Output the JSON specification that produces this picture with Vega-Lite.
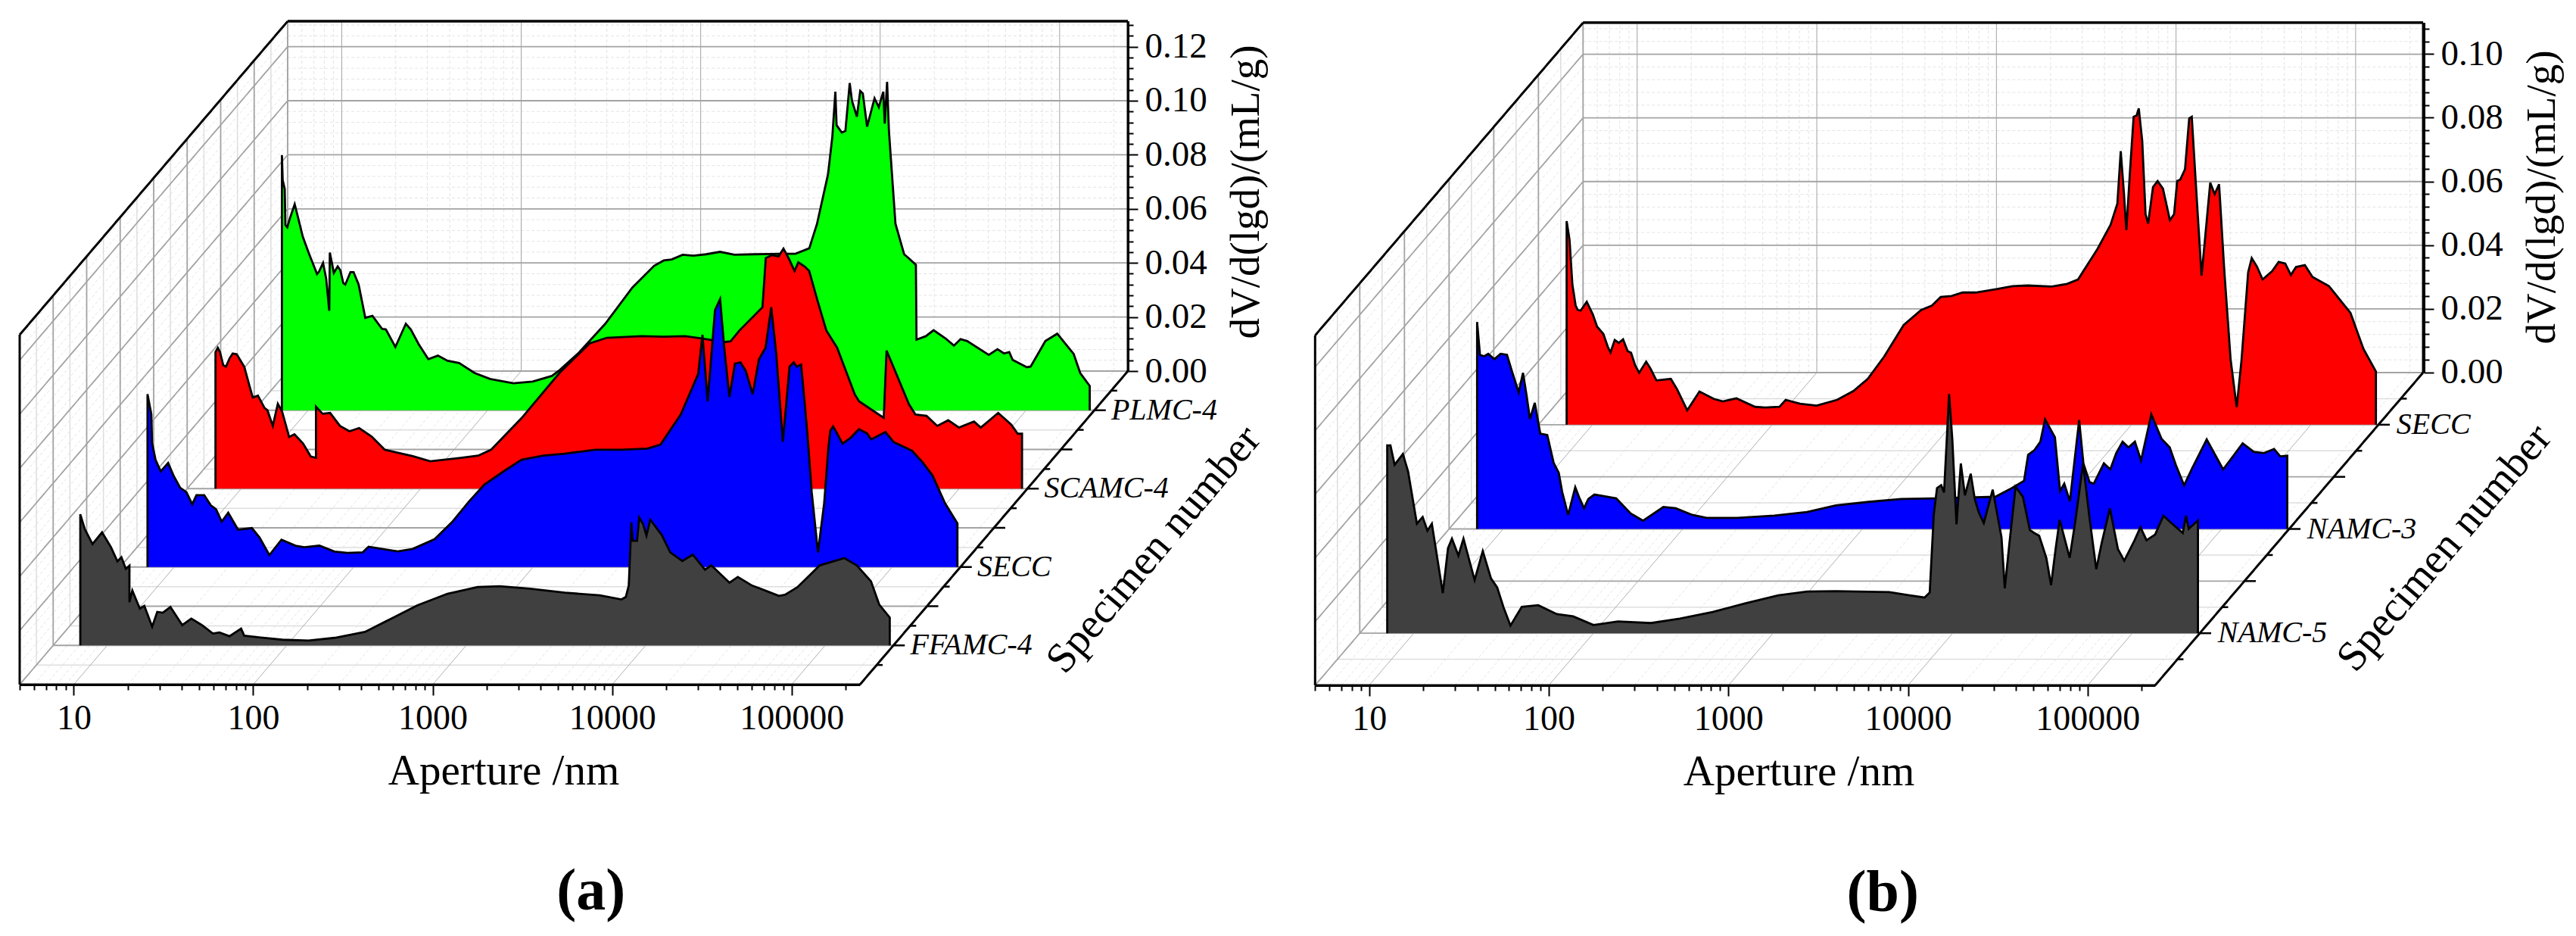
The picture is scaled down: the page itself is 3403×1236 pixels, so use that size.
{"$schema":"https://vega.github.io/schema/vega-lite/v6.json","width":3403,"height":1236,"padding":0,"autosize":{"type":"none"},"background":"white","config":{"view":{"stroke":null}},
"datasets":{
"PLMC-4":[{"a":7.14,"v":0},{"a":7.14,"v":0.0944},{"a":7.21,"v":0.0851},{"a":7.40,"v":0.0819},{"a":7.47,"v":0.0685},{"a":7.65,"v":0.0677},{"a":7.92,"v":0.0711},{"a":8.41,"v":0.0762},{"a":8.75,"v":0.0717},{"a":9.33,"v":0.0642},{"a":10.05,"v":0.0583},{"a":11.2,"v":0.0504},{"a":11.5,"v":0.0513},{"a":12.1,"v":0.0545},{"a":12.6,"v":0.0486},{"a":13.1,"v":0.0368},{"a":13.2,"v":0.0583},{"a":13.5,"v":0.0551},{"a":13.9,"v":0.0508},{"a":14.6,"v":0.0532},{"a":15.1,"v":0.0518},{"a":15.7,"v":0.047},{"a":16.1,"v":0.0465},{"a":17.2,"v":0.0511},{"a":17.9,"v":0.0511},{"a":19.1,"v":0.0465},{"a":20.8,"v":0.0342},{"a":22.8,"v":0.0349},{"a":25.8,"v":0.0301},{"a":27.1,"v":0.0299},{"a":30.6,"v":0.0234},{"a":35,"v":0.032},{"a":37.3,"v":0.0299},{"a":41.2,"v":0.0245},{"a":46.7,"v":0.0189},{"a":52.8,"v":0.0202},{"a":59.8,"v":0.0183},{"a":69.3,"v":0.0175},{"a":84.5,"v":0.0138},{"a":103,"v":0.0116},{"a":139,"v":0.01},{"a":178,"v":0.0106},{"a":228,"v":0.0127},{"a":252,"v":0.0149},{"a":322,"v":0.0213},{"a":452,"v":0.032},{"a":640,"v":0.0454},{"a":845,"v":0.0534},{"a":957,"v":0.0554},{"a":1060,"v":0.0558},{"a":1220,"v":0.0575},{"a":1400,"v":0.0572},{"a":1650,"v":0.0577},{"a":1970,"v":0.0586},{"a":2370,"v":0.0575},{"a":3050,"v":0.0577},{"a":4270,"v":0.0579},{"a":5180,"v":0.0579},{"a":6190,"v":0.0599},{"a":6840,"v":0.069},{"a":7870,"v":0.0872},{"a":8320,"v":0.1011},{"a":8650,"v":0.1178},{"a":8790,"v":0.1054},{"a":9400,"v":0.1027},{"a":9840,"v":0.1033},{"a":10400,"v":0.121},{"a":10700,"v":0.1145},{"a":11400,"v":0.1086},{"a":11900,"v":0.1181},{"a":12300,"v":0.1172},{"a":13000,"v":0.1049},{"a":14300,"v":0.1154},{"a":15100,"v":0.1121},{"a":16000,"v":0.1178},{"a":16300,"v":0.106},{"a":16800,"v":0.1215},{"a":17200,"v":0.1033},{"a":18700,"v":0.069},{"a":20900,"v":0.0577},{"a":22300,"v":0.0561},{"a":24300,"v":0.0538},{"a":24500,"v":0.0261},{"a":27600,"v":0.0274},{"a":30500,"v":0.0296},{"a":35500,"v":0.0266},{"a":39600,"v":0.0239},{"a":43100,"v":0.0263},{"a":46900,"v":0.0256},{"a":61900,"v":0.0205},{"a":69200,"v":0.0226},{"a":75300,"v":0.021},{"a":80500,"v":0.0215},{"a":84100,"v":0.0186},{"a":101000,"v":0.0159},{"a":106000,"v":0.0162},{"a":128000,"v":0.0256},{"a":149000,"v":0.0283},{"a":184000,"v":0.0208},{"a":200000,"v":0.0138},{"a":226000,"v":0.009},{"a":226000,"v":0}],
"SCAMC-4":[{"a":7.19,"v":0},{"a":7.19,"v":0.0505},{"a":7.41,"v":0.0521},{"a":7.62,"v":0.0505},{"a":7.94,"v":0.0457},{"a":8.22,"v":0.0451},{"a":8.63,"v":0.0483},{"a":8.97,"v":0.05},{"a":9.44,"v":0.0497},{"a":10.4,"v":0.0451},{"a":11.1,"v":0.0382},{"a":11.6,"v":0.0337},{"a":12.4,"v":0.0344},{"a":13.5,"v":0.0298},{"a":14,"v":0.029},{"a":15,"v":0.0232},{"a":16,"v":0.0314},{"a":16.9,"v":0.0285},{"a":18.5,"v":0.0191},{"a":19.8,"v":0.0201},{"a":22.1,"v":0.0167},{"a":24.4,"v":0.0119},{"a":26.1,"v":0.0114},{"a":26.1,"v":0.0303},{"a":28.4,"v":0.0277},{"a":31.3,"v":0.028},{"a":35.5,"v":0.0232},{"a":40.1,"v":0.0212},{"a":45.4,"v":0.0224},{"a":53.2,"v":0.0193},{"a":63,"v":0.0144},{"a":90.4,"v":0.012},{"a":113,"v":0.0101},{"a":167,"v":0.0114},{"a":209,"v":0.0122},{"a":247,"v":0.0144},{"a":365,"v":0.0261},{"a":597,"v":0.043},{"a":873,"v":0.0537},{"a":1090,"v":0.0558},{"a":1700,"v":0.0564},{"a":2250,"v":0.0562},{"a":2970,"v":0.0564},{"a":3720,"v":0.0555},{"a":4910,"v":0.0542},{"a":5330,"v":0.0545},{"a":5970,"v":0.0585},{"a":8020,"v":0.0671},{"a":8370,"v":0.0853},{"a":9080,"v":0.0864},{"a":9860,"v":0.0859},{"a":10500,"v":0.0888},{"a":11300,"v":0.0848},{"a":12100,"v":0.0805},{"a":12700,"v":0.0837},{"a":13800,"v":0.0821},{"a":14600,"v":0.0805},{"a":16300,"v":0.0692},{"a":18200,"v":0.0585},{"a":20900,"v":0.0521},{"a":26200,"v":0.0349},{"a":27700,"v":0.0323},{"a":33700,"v":0.0285},{"a":38000,"v":0.0262},{"a":39400,"v":0.051},{"a":43300,"v":0.0446},{"a":52500,"v":0.0312},{"a":57100,"v":0.0274},{"a":65800,"v":0.0269},{"a":75500,"v":0.0232},{"a":86900,"v":0.0253},{"a":99800,"v":0.0226},{"a":121000,"v":0.0248},{"a":132000,"v":0.0226},{"a":165000,"v":0.028},{"a":195000,"v":0.0237},{"a":212000,"v":0.0203},{"a":224000,"v":0.0203},{"a":224000,"v":0}],
"SECC-a":[{"a":7.1,"v":0},{"a":7.1,"v":0.0639},{"a":7.46,"v":0.0565},{"a":7.53,"v":0.0459},{"a":7.87,"v":0.0397},{"a":8.41,"v":0.0354},{"a":9.25,"v":0.0385},{"a":9.95,"v":0.0336},{"a":10.8,"v":0.0293},{"a":11.7,"v":0.0277},{"a":12.6,"v":0.0232},{"a":13.3,"v":0.0266},{"a":14.7,"v":0.0266},{"a":16,"v":0.0228},{"a":17.1,"v":0.0214},{"a":18.4,"v":0.0168},{"a":20,"v":0.0201},{"a":22.7,"v":0.0138},{"a":27.1,"v":0.0144},{"a":29.9,"v":0.0109},{"a":33.9,"v":0.0044},{"a":39.6,"v":0.0101},{"a":47.4,"v":0.0079},{"a":53,"v":0.0073},{"a":64.4,"v":0.0079},{"a":78.2,"v":0.0057},{"a":92.5,"v":0.0052},{"a":112,"v":0.0054},{"a":121,"v":0.0075},{"a":144,"v":0.0067},{"a":176,"v":0.0058},{"a":213,"v":0.0067},{"a":282,"v":0.0103},{"a":352,"v":0.0165},{"a":441,"v":0.0244},{"a":535,"v":0.0305},{"a":689,"v":0.0355},{"a":861,"v":0.0397},{"a":1140,"v":0.0412},{"a":1500,"v":0.0419},{"a":2220,"v":0.0434},{"a":3100,"v":0.0434},{"a":4330,"v":0.0438},{"a":5120,"v":0.0453},{"a":6640,"v":0.0564},{"a":8300,"v":0.0714},{"a":8770,"v":0.0859},{"a":9380,"v":0.0613},{"a":10300,"v":0.095},{"a":11000,"v":0.0991},{"a":11600,"v":0.0811},{"a":12400,"v":0.0629},{"a":13300,"v":0.0752},{"a":14300,"v":0.0757},{"a":15300,"v":0.0725},{"a":16700,"v":0.0639},{"a":18100,"v":0.0768},{"a":19700,"v":0.0811},{"a":21200,"v":0.0961},{"a":22600,"v":0.079},{"a":24600,"v":0.0463},{"a":26800,"v":0.0741},{"a":28300,"v":0.0757},{"a":29400,"v":0.0741},{"a":31100,"v":0.0749},{"a":32400,"v":0.0622},{"a":33800,"v":0.0483},{"a":35600,"v":0.0279},{"a":38600,"v":0.0054},{"a":41800,"v":0.0236},{"a":44100,"v":0.044},{"a":45200,"v":0.0504},{"a":46900,"v":0.052},{"a":48900,"v":0.0499},{"a":52900,"v":0.0456},{"a":58700,"v":0.0478},{"a":65300,"v":0.051},{"a":72500,"v":0.0494},{"a":76400,"v":0.0472},{"a":91800,"v":0.0499},{"a":102000,"v":0.0462},{"a":129000,"v":0.043},{"a":148000,"v":0.0387},{"a":168000,"v":0.0338},{"a":197000,"v":0.0236},{"a":231000,"v":0.0161},{"a":231000,"v":0}],
"FFAMC-4":[{"a":7.08,"v":0},{"a":7.08,"v":0.0485},{"a":7.5,"v":0.043},{"a":8.28,"v":0.0375},{"a":9.36,"v":0.0418},{"a":10.5,"v":0.0363},{"a":11.4,"v":0.0311},{"a":12,"v":0.0326},{"a":12.7,"v":0.0283},{"a":13.3,"v":0.0295},{"a":13.3,"v":0.016},{"a":13.8,"v":0.0203},{"a":15.2,"v":0.0136},{"a":16.1,"v":0.0146},{"a":17.8,"v":0.0069},{"a":19,"v":0.0124},{"a":20.4,"v":0.0121},{"a":22.5,"v":0.0142},{"a":26.2,"v":0.0075},{"a":29.4,"v":0.0099},{"a":33.7,"v":0.0075},{"a":38.8,"v":0.0044},{"a":42.2,"v":0.0048},{"a":48,"v":0.0034},{"a":55.7,"v":0.0062},{"a":58,"v":0.0036},{"a":71.6,"v":0.0029},{"a":94.6,"v":0.0021},{"a":132,"v":0.0018},{"a":185,"v":0.0028},{"a":273,"v":0.005},{"a":382,"v":0.0099},{"a":533,"v":0.0148},{"a":787,"v":0.0191},{"a":1160,"v":0.0216},{"a":1540,"v":0.0219},{"a":2270,"v":0.021},{"a":3550,"v":0.0195},{"a":5550,"v":0.0185},{"a":7330,"v":0.017},{"a":7750,"v":0.0179},{"a":8050,"v":0.0222},{"a":8320,"v":0.0455},{"a":8470,"v":0.0387},{"a":8950,"v":0.0387},{"a":9200,"v":0.0473},{"a":9680,"v":0.0448},{"a":10100,"v":0.0406},{"a":10600,"v":0.0465},{"a":12300,"v":0.0408},{"a":13700,"v":0.0344},{"a":16000,"v":0.0312},{"a":18300,"v":0.0336},{"a":21400,"v":0.028},{"a":23200,"v":0.0296},{"a":29300,"v":0.0232},{"a":32600,"v":0.0253},{"a":39200,"v":0.0221},{"a":43500,"v":0.021},{"a":55200,"v":0.0183},{"a":59700,"v":0.0187},{"a":70000,"v":0.0215},{"a":93300,"v":0.0296},{"a":128000,"v":0.0323},{"a":150000,"v":0.0296},{"a":180000,"v":0.0237},{"a":200000,"v":0.0151},{"a":229000,"v":0.0103},{"a":229000,"v":0}],
"SECC-b":[{"a":7.18,"v":0},{"a":7.18,"v":0.0639},{"a":7.45,"v":0.0581},{"a":7.73,"v":0.044},{"a":8.06,"v":0.0374},{"a":8.28,"v":0.036},{"a":8.59,"v":0.0358},{"a":9.29,"v":0.0386},{"a":10.05,"v":0.0346},{"a":10.6,"v":0.0308},{"a":11.5,"v":0.0285},{"a":12.2,"v":0.0243},{"a":12.6,"v":0.0227},{"a":13.3,"v":0.0266},{"a":14,"v":0.0257},{"a":14.8,"v":0.0268},{"a":15.7,"v":0.0231},{"a":16.4,"v":0.0226},{"a":17.3,"v":0.0186},{"a":18.2,"v":0.0163},{"a":19.9,"v":0.0198},{"a":21,"v":0.0177},{"a":22.7,"v":0.0139},{"a":27.3,"v":0.0144},{"a":29.6,"v":0.0111},{"a":33.7,"v":0.0045},{"a":39.4,"v":0.0104},{"a":47.4,"v":0.0081},{"a":53.2,"v":0.0073},{"a":63.3,"v":0.0083},{"a":80.4,"v":0.0056},{"a":91.5,"v":0.0054},{"a":110,"v":0.0056},{"a":119,"v":0.0078},{"a":143,"v":0.0066},{"a":177,"v":0.006},{"a":230,"v":0.0078},{"a":284,"v":0.0106},{"a":341,"v":0.0144},{"a":421,"v":0.0214},{"a":540,"v":0.0313},{"a":675,"v":0.036},{"a":776,"v":0.0374},{"a":869,"v":0.0401},{"a":998,"v":0.0404},{"a":1150,"v":0.0415},{"a":1360,"v":0.0415},{"a":1790,"v":0.0426},{"a":2180,"v":0.0435},{"a":2650,"v":0.0437},{"a":3610,"v":0.0434},{"a":4390,"v":0.0442},{"a":5050,"v":0.0456},{"a":6500,"v":0.0553},{"a":7670,"v":0.0628},{"a":8360,"v":0.0694},{"a":8730,"v":0.0859},{"a":9080,"v":0.0732},{"a":9380,"v":0.0611},{"a":9860,"v":0.0807},{"a":10300,"v":0.0967},{"a":10700,"v":0.0971},{"a":11000,"v":0.0993},{"a":11500,"v":0.0891},{"a":12000,"v":0.0661},{"a":12400,"v":0.0631},{"a":13200,"v":0.0746},{"a":14000,"v":0.0765},{"a":15000,"v":0.0741},{"a":16400,"v":0.0642},{"a":17300,"v":0.0661},{"a":18000,"v":0.0765},{"a":18700,"v":0.0769},{"a":19900,"v":0.0802},{"a":21000,"v":0.0962},{"a":21700,"v":0.0967},{"a":22900,"v":0.075},{"a":24600,"v":0.0468},{"a":25700,"v":0.0581},{"a":27500,"v":0.076},{"a":29100,"v":0.0724},{"a":30800,"v":0.0755},{"a":32900,"v":0.0487},{"a":35700,"v":0.0205},{"a":38600,"v":0.0055},{"a":41100,"v":0.0205},{"a":44700,"v":0.0478},{"a":46800,"v":0.0523},{"a":50000,"v":0.0497},{"a":53800,"v":0.0456},{"a":60800,"v":0.0482},{"a":66100,"v":0.0511},{"a":71900,"v":0.0506},{"a":77300,"v":0.047},{"a":82600,"v":0.0495},{"a":92500,"v":0.0501},{"a":102000,"v":0.0464},{"a":126000,"v":0.0435},{"a":166000,"v":0.0351},{"a":196000,"v":0.0238},{"a":230000,"v":0.0167},{"a":230000,"v":0}],
"NAMC-3":[{"a":7.16,"v":0},{"a":7.16,"v":0.065},{"a":7.43,"v":0.0547},{"a":7.83,"v":0.0542},{"a":8.26,"v":0.055},{"a":8.93,"v":0.0533},{"a":9.67,"v":0.055},{"a":10.5,"v":0.0547},{"a":11.2,"v":0.0495},{"a":12.2,"v":0.0429},{"a":12.9,"v":0.049},{"a":13.5,"v":0.042},{"a":14.1,"v":0.0345},{"a":15,"v":0.0396},{"a":16.1,"v":0.0299},{"a":17.6,"v":0.0295},{"a":19.1,"v":0.0208},{"a":20.4,"v":0.0176},{"a":21.3,"v":0.0117},{"a":23,"v":0.0044},{"a":25.2,"v":0.0131},{"a":26.5,"v":0.0099},{"a":28.2,"v":0.0065},{"a":29.8,"v":0.0094},{"a":32.2,"v":0.0108},{"a":36.3,"v":0.0103},{"a":42.6,"v":0.0096},{"a":51.2,"v":0.0049},{"a":60,"v":0.0026},{"a":78,"v":0.0069},{"a":91.4,"v":0.0065},{"a":113,"v":0.0044},{"a":136,"v":0.0035},{"a":201,"v":0.0035},{"a":323,"v":0.0042},{"a":492,"v":0.0053},{"a":711,"v":0.0074},{"a":1080,"v":0.0085},{"a":1650,"v":0.0094},{"a":2510,"v":0.0096},{"a":5500,"v":0.0101},{"a":6770,"v":0.0128},{"a":7940,"v":0.0151},{"a":8370,"v":0.0233},{"a":9060,"v":0.0247},{"a":9790,"v":0.0274},{"a":10400,"v":0.0344},{"a":11800,"v":0.0288},{"a":12600,"v":0.0119},{"a":13300,"v":0.0142},{"a":14300,"v":0.0087},{"a":16100,"v":0.0342},{"a":17000,"v":0.0206},{"a":18400,"v":0.0147},{"a":19400,"v":0.0142},{"a":22100,"v":0.0206},{"a":24000,"v":0.0187},{"a":25900,"v":0.0238},{"a":28100,"v":0.0274},{"a":30300,"v":0.0256},{"a":32900,"v":0.0274},{"a":35600,"v":0.0215},{"a":40600,"v":0.036},{"a":46300,"v":0.0283},{"a":51400,"v":0.0256},{"a":55600,"v":0.0201},{"a":61800,"v":0.0137},{"a":68700,"v":0.0192},{"a":82600,"v":0.0281},{"a":102000,"v":0.0187},{"a":131000,"v":0.0269},{"a":151000,"v":0.0242},{"a":172000,"v":0.0238},{"a":196000,"v":0.0251},{"a":212000,"v":0.0228},{"a":232000,"v":0.023},{"a":232000,"v":0}],
"NAMC-5":[{"a":7.11,"v":0},{"a":7.11,"v":0.059},{"a":7.41,"v":0.059},{"a":7.82,"v":0.0529},{"a":8.69,"v":0.0563},{"a":9.29,"v":0.0508},{"a":10.4,"v":0.0344},{"a":11.2,"v":0.0365},{"a":11.9,"v":0.0322},{"a":12.6,"v":0.0344},{"a":14.5,"v":0.0126},{"a":15.5,"v":0.0267},{"a":16.3,"v":0.0297},{"a":17.7,"v":0.0244},{"a":18.9,"v":0.0297},{"a":21.8,"v":0.0167},{"a":24.2,"v":0.0258},{"a":26.9,"v":0.0172},{"a":29.1,"v":0.0144},{"a":31.6,"v":0.0081},{"a":34.5,"v":0.0024},{"a":39.9,"v":0.0083},{"a":49.3,"v":0.0088},{"a":62.5,"v":0.006},{"a":77.1,"v":0.0053},{"a":100,"v":0.0026},{"a":137,"v":0.0037},{"a":209,"v":0.0032},{"a":303,"v":0.0046},{"a":461,"v":0.0067},{"a":703,"v":0.0094},{"a":1070,"v":0.0119},{"a":1550,"v":0.0131},{"a":2230,"v":0.0132},{"a":4430,"v":0.0129},{"a":5750,"v":0.0119},{"a":6980,"v":0.0112},{"a":7450,"v":0.0128},{"a":7850,"v":0.0374},{"a":8180,"v":0.0456},{"a":8630,"v":0.0465},{"a":8950,"v":0.0442},{"a":9550,"v":0.0751},{"a":9950,"v":0.061},{"a":10500,"v":0.0342},{"a":11100,"v":0.0533},{"a":11700,"v":0.0433},{"a":12600,"v":0.0501},{"a":13300,"v":0.0419},{"a":14000,"v":0.0378},{"a":14900,"v":0.0346},{"a":16700,"v":0.0451},{"a":18700,"v":0.0301},{"a":19500,"v":0.0141},{"a":20700,"v":0.0283},{"a":22400,"v":0.046},{"a":24600,"v":0.0428},{"a":26900,"v":0.0324},{"a":28400,"v":0.0315},{"a":30300,"v":0.0306},{"a":33200,"v":0.0237},{"a":35300,"v":0.0151},{"a":37400,"v":0.0264},{"a":39400,"v":0.0356},{"a":44800,"v":0.0237},{"a":48000,"v":0.0346},{"a":53200,"v":0.0533},{"a":57700,"v":0.0365},{"a":63000,"v":0.0201},{"a":67500,"v":0.0283},{"a":75000,"v":0.0392},{"a":83200,"v":0.0264},{"a":90200,"v":0.0228},{"a":103000,"v":0.0292},{"a":111000,"v":0.0333},{"a":120000,"v":0.0292},{"a":134000,"v":0.031},{"a":149000,"v":0.0369},{"a":165000,"v":0.0346},{"a":191000,"v":0.0315},{"a":199000,"v":0.0369},{"a":206000,"v":0.0328},{"a":232000,"v":0.0354},{"a":232000,"v":0}],
"gridA":[{"f":"a","m":0,"val":[6,7,8,9,20,30,40,50,60,70,80,90,200,300,400,500,600,700,800,900,2000,3000,4000,5000,6000,7000,8000,9000,20000,30000,40000,50000,60000,70000,80000,90000,200000]},{"f":"v","m":0,"val":[0.004,0.008,0.012,0.016,0.024,0.028,0.032,0.036,0.044,0.048,0.052,0.056,0.064,0.068,0.072,0.076,0.084,0.088,0.092,0.096,0.104,0.108,0.112,0.116,0.124,0.128]},{"f":"d","m":3,"val":[0.0625,0.1875,0.3125,0.4375,0.5625,0.6875,0.8125,0.9375]},{"f":"a","m":1,"val":[5,10,100,1000,10000,100000]},{"f":"v","m":1,"val":[0,0.02,0.04,0.06,0.08,0.1,0.12]},{"f":"d","m":1,"val":[0.125,0.25,0.375,0.5,0.625,0.75,0.875,1]},{"f":"a","m":2,"val":[240000]},{"f":"v","m":2,"val":[0.1294]},{"f":"d","m":2,"val":[0]}],
"gridB":[{"f":"a","m":0,"val":[6,7,8,9,20,30,40,50,60,70,80,90,200,300,400,500,600,700,800,900,2000,3000,4000,5000,6000,7000,8000,9000,20000,30000,40000,50000,60000,70000,80000,90000,200000]},{"f":"v","m":0,"val":[0.004,0.008,0.012,0.016,0.024,0.028,0.032,0.036,0.044,0.048,0.052,0.056,0.064,0.068,0.072,0.076,0.084,0.088,0.092,0.096,0.104,0.108]},{"f":"d","m":3,"val":[0.08333,0.25,0.41667,0.58333,0.75,0.91667]},{"f":"a","m":1,"val":[5,10,100,1000,10000,100000]},{"f":"v","m":1,"val":[0,0.02,0.04,0.06,0.08,0.1]},{"f":"d","m":1,"val":[0.16667,0.33333,0.5,0.66667,0.83333,1]},{"f":"a","m":2,"val":[237500]},{"f":"v","m":2,"val":[0.1099]},{"f":"d","m":2,"val":[0]}]
},
"resolve":{"scale":{"x":"independent","y":"independent"},"axis":{"x":"independent","y":"independent"}},
"layer":[
{"encoding":{"x":{"field":"x1","type":"quantitative","scale":{"type":"log","domain":[5,240000],"range":[26,1136],"nice":false},"axis":{"orient":"bottom","offset":-332,"values":[5,6,7,8,9,10,20,30,40,50,60,70,80,90,100,200,300,400,500,600,700,800,900,1000,2000,3000,4000,5000,6000,7000,8000,9000,10000,20000,30000,40000,50000,60000,70000,80000,90000,100000,200000],"labelExpr":"abs(log(datum.value)/LN10-round(log(datum.value)/LN10))<0.0001?datum.value:''","labelFont":"Liberation Serif","labelFontSize":46,"labelColor":"#000","labelPadding":8,"labelOverlap":false,"labelBound":false,"labelFlush":false,"tickSize":{"condition":{"test":"abs(log(datum.value)/LN10-round(log(datum.value)/LN10))<0.0001","value":14},"value":7},"tickWidth":2,"tickColor":"#000","domainColor":"#000","domainWidth":3,"grid":false,"title":"Aperture /nm","titleFont":"Liberation Serif","titleFontSize":57,"titleFontWeight":"normal","titleColor":"#000","titleX":665,"titleY":131,"titleAlign":"center","titleBaseline":"alphabetic"}},"y":{"field":"y1","type":"quantitative","scale":{"domain":[0,1],"range":[904,490],"nice":false,"zero":false},"axis":null}},
"layer":[
{"data":{"name":"gridA"},"transform":[{"flatten":["val"]},{"calculate":"[0,1]","as":"w"},{"flatten":["w"]},{"calculate":"datum.f=='a'?datum.val*(datum.w?31.12:1):datum.f=='v'?5*(datum.w?31.12:1):5*pow(31.12,datum.val)","as":"x1"},{"calculate":"datum.f=='a'?datum.val*31.12:datum.f=='v'?(datum.w?240000*31.12:5*31.12):(datum.w?240000:5)*pow(31.12,datum.val)","as":"x2"},{"calculate":"datum.f=='a'?(datum.w?1:0):datum.f=='v'?(datum.w?1:0)+datum.val*8.623:datum.val","as":"y1"},{"calculate":"datum.f=='a'?(datum.w?1+0.1294*8.623:1):datum.f=='v'?1+datum.val*8.623:datum.val+(datum.w?0:0.1294*8.623)","as":"y2"}],"mark":{"type":"rule"},"encoding":{"x2":{"field":"x2"},"y2":{"field":"y2"},"color":{"condition":[{"test":"datum.m==2","value":"#000000"},{"test":"datum.m==1","value":"#a3a3a3"},{"test":"datum.m==3","value":"#dedede"}],"value":"#e4e4e4"},"strokeWidth":{"condition":[{"test":"datum.m==2","value":3},{"test":"datum.m==1&&datum.f=='a'","value":1},{"test":"datum.m==1","value":1.8},{"test":"datum.m==3","value":1.5}],"value":1},"strokeDash":{"condition":{"test":"datum.m==0","value":[4,3]},"value":[1,0]}}},
{"data":{"values":[{"m":1,"d":[0.125,0.25,0.375,0.5,0.625,0.75,0.875]},{"m":0,"d":[0.0625,0.1875,0.3125,0.4375,0.5625,0.6875,0.8125,0.9375]}]},"transform":[{"flatten":["d"]},{"calculate":"240000*pow(31.12,datum.d)","as":"x1"},{"calculate":"datum.x1*(datum.m?1.157:1.08)","as":"x2"},{"calculate":"datum.d","as":"y1"}],"mark":{"type":"rule","color":"#000","strokeWidth":2.5},"encoding":{"x2":{"field":"x2"}}},
{"data":{"values":[{"t":"FFAMC-4","d":0.125},{"t":"SECC","d":0.375},{"t":"SCAMC-4","d":0.625},{"t":"PLMC-4","d":0.875}]},"transform":[{"calculate":"240000*1.24*pow(31.12,datum.d)","as":"x1"},{"calculate":"datum.d","as":"y1"}],"mark":{"type":"text","font":"Liberation Serif","fontStyle":"italic","fontSize":40,"align":"left","baseline":"middle","color":"#000"},"encoding":{"text":{"field":"t"}}},
{"data":{"values":[{"t":"Specimen number","x1":10400000,"y1":0.431}]},"mark":{"type":"text","font":"Liberation Serif","fontSize":56,"angle":-50,"align":"center","baseline":"middle","color":"#000"},"encoding":{"text":{"field":"t"}}},
{"data":{"values":[{"t":"(a)","x1":7620,"y1":-0.662}]},"mark":{"type":"text","font":"Liberation Serif","fontWeight":"bold","fontSize":78,"align":"center","baseline":"middle","color":"#000"},"encoding":{"text":{"field":"t"}}}
]},
{"data":{"values":[{"v":0.1294}]},"mark":{"type":"rule","color":"#000","strokeWidth":3},"encoding":{"x":{"datum":5,"type":"quantitative","scale":{"type":"log","domain":[5,240000],"range":[380,1490],"nice":false},"axis":null},"x2":{"datum":240000},"y":{"field":"v","type":"quantitative","scale":{"domain":[0,0.1294],"range":[490,28],"nice":false,"zero":false},"axis":{"orient":"right","offset":-1913,"values":[0,0.004,0.008,0.012,0.016,0.02,0.024,0.028,0.032,0.036,0.04,0.044,0.048,0.052,0.056,0.06,0.064,0.068,0.072,0.076,0.08,0.084,0.088,0.092,0.096,0.1,0.104,0.108,0.112,0.116,0.12,0.124,0.128],"labelExpr":"round(datum.value*1000)%20==0?format(datum.value,'.2f'):''","labelFont":"Liberation Serif","labelFontSize":47,"labelColor":"#000","labelPadding":9,"labelOverlap":false,"labelBound":false,"labelFlush":false,"tickSize":{"condition":{"test":"round(datum.value*1000)%20==0","value":13},"value":7},"tickWidth":2,"tickColor":"#000","domainColor":"#000","domainWidth":3,"grid":false,"title":"dV/d(lgd)/(mL/g)","titleFont":"Liberation Serif","titleFontSize":55,"titleFontWeight":"normal","titleColor":"#000","titleAngle":-90,"titleX":172,"titleY":253,"titleAlign":"center","titleBaseline":"alphabetic"}}}},
{"data":{"name":"PLMC-4"},"encoding":{"x":{"field":"a","type":"quantitative","scale":{"type":"log","domain":[5,240000],"range":[335.75,1445.75],"nice":false},"axis":null},"y":{"field":"v","type":"quantitative","stack":null,"scale":{"domain":[0,0.1294],"range":[541.75,79.75],"nice":false},"axis":null},"order":{"value":null}},"layer":[{"mark":{"type":"area","color":"#00ff00"}},{"mark":{"type":"line","color":"#000","strokeWidth":2.8}}]},
{"data":{"name":"SCAMC-4"},"encoding":{"x":{"field":"a","type":"quantitative","scale":{"type":"log","domain":[5,240000],"range":[247.25,1357.25],"nice":false},"axis":null},"y":{"field":"v","type":"quantitative","stack":null,"scale":{"domain":[0,0.1294],"range":[645.25,183.25],"nice":false},"axis":null},"order":{"value":null}},"layer":[{"mark":{"type":"area","color":"#ff0000"}},{"mark":{"type":"line","color":"#000","strokeWidth":2.8}}]},
{"data":{"name":"SECC-a"},"encoding":{"x":{"field":"a","type":"quantitative","scale":{"type":"log","domain":[5,240000],"range":[158.75,1268.75],"nice":false},"axis":null},"y":{"field":"v","type":"quantitative","stack":null,"scale":{"domain":[0,0.1294],"range":[748.75,286.75],"nice":false},"axis":null},"order":{"value":null}},"layer":[{"mark":{"type":"area","color":"#0000ff"}},{"mark":{"type":"line","color":"#000","strokeWidth":2.8}}]},
{"data":{"name":"FFAMC-4"},"encoding":{"x":{"field":"a","type":"quantitative","scale":{"type":"log","domain":[5,240000],"range":[70.25,1180.25],"nice":false},"axis":null},"y":{"field":"v","type":"quantitative","stack":null,"scale":{"domain":[0,0.1294],"range":[852.25,390.25],"nice":false},"axis":null},"order":{"value":null}},"layer":[{"mark":{"type":"area","color":"#404040"}},{"mark":{"type":"line","color":"#000","strokeWidth":2.8}}]},
{"encoding":{"x":{"field":"x1","type":"quantitative","scale":{"type":"log","domain":[5,237500],"range":[1737.3,2847],"nice":false},"axis":{"orient":"bottom","offset":-331,"values":[5,6,7,8,9,10,20,30,40,50,60,70,80,90,100,200,300,400,500,600,700,800,900,1000,2000,3000,4000,5000,6000,7000,8000,9000,10000,20000,30000,40000,50000,60000,70000,80000,90000,100000,200000],"labelExpr":"abs(log(datum.value)/LN10-round(log(datum.value)/LN10))<0.0001?datum.value:''","labelFont":"Liberation Serif","labelFontSize":46,"labelColor":"#000","labelPadding":8,"labelOverlap":false,"labelBound":false,"labelFlush":false,"tickSize":{"condition":{"test":"abs(log(datum.value)/LN10-round(log(datum.value)/LN10))<0.0001","value":14},"value":7},"tickWidth":2,"tickColor":"#000","domainColor":"#000","domainWidth":3,"grid":false,"title":"Aperture /nm","titleFont":"Liberation Serif","titleFontSize":57,"titleFontWeight":"normal","titleColor":"#000","titleX":2376,"titleY":131,"titleAlign":"center","titleBaseline":"alphabetic"}},"y":{"field":"y1","type":"quantitative","scale":{"domain":[0,1],"range":[905,492],"nice":false,"zero":false},"axis":null}},
"layer":[
{"data":{"name":"gridB"},"transform":[{"flatten":["val"]},{"calculate":"[0,1]","as":"w"},{"flatten":["w"]},{"calculate":"datum.f=='a'?datum.val*(datum.w?31.05:1):datum.f=='v'?5*(datum.w?31.05:1):5*pow(31.05,datum.val)","as":"x1"},{"calculate":"datum.f=='a'?datum.val*31.05:datum.f=='v'?(datum.w?237500*31.05:5*31.05):(datum.w?237500:5)*pow(31.05,datum.val)","as":"x2"},{"calculate":"datum.f=='a'?(datum.w?1:0):datum.f=='v'?(datum.w?1:0)+datum.val*10.18:datum.val","as":"y1"},{"calculate":"datum.f=='a'?(datum.w?1+0.1099*10.18:1):datum.f=='v'?1+datum.val*10.18:datum.val+(datum.w?0:0.1099*10.18)","as":"y2"}],"mark":{"type":"rule"},"encoding":{"x2":{"field":"x2"},"y2":{"field":"y2"},"color":{"condition":[{"test":"datum.m==2","value":"#000000"},{"test":"datum.m==1","value":"#a3a3a3"},{"test":"datum.m==3","value":"#dedede"}],"value":"#e4e4e4"},"strokeWidth":{"condition":[{"test":"datum.m==2","value":3},{"test":"datum.m==1&&datum.f=='a'","value":1},{"test":"datum.m==1","value":1.8},{"test":"datum.m==3","value":1.5}],"value":1},"strokeDash":{"condition":{"test":"datum.m==0","value":[4,3]},"value":[1,0]}}},
{"data":{"values":[{"m":1,"d":[0.16667,0.33333,0.5,0.66667,0.83333]},{"m":0,"d":[0.08333,0.25,0.41667,0.58333,0.75,0.91667]}]},"transform":[{"flatten":["d"]},{"calculate":"237500*pow(31.05,datum.d)","as":"x1"},{"calculate":"datum.x1*(datum.m?1.157:1.08)","as":"x2"},{"calculate":"datum.d","as":"y1"}],"mark":{"type":"rule","color":"#000","strokeWidth":2.5},"encoding":{"x2":{"field":"x2"}}},
{"data":{"values":[{"t":"NAMC-5","d":0.16667},{"t":"NAMC-3","d":0.5},{"t":"SECC","d":0.83333}]},"transform":[{"calculate":"237500*1.26*pow(31.05,datum.d)","as":"x1"},{"calculate":"datum.d","as":"y1"}],"mark":{"type":"text","font":"Liberation Serif","fontStyle":"italic","fontSize":40,"align":"left","baseline":"middle","color":"#000"},"encoding":{"text":{"field":"t"}}},
{"data":{"values":[{"t":"Specimen number","x1":9700000,"y1":0.4395}]},"mark":{"type":"text","font":"Liberation Serif","fontSize":56,"angle":-50,"align":"center","baseline":"middle","color":"#000"},"encoding":{"text":{"field":"t"}}},
{"data":{"values":[{"t":"(b)","x1":7240,"y1":-0.666}]},"mark":{"type":"text","font":"Liberation Serif","fontWeight":"bold","fontSize":78,"align":"center","baseline":"middle","color":"#000"},"encoding":{"text":{"field":"t"}}}
]},
{"data":{"values":[{"v":0.1099}]},"mark":{"type":"rule","color":"#000","strokeWidth":3},"encoding":{"x":{"datum":5,"type":"quantitative","scale":{"type":"log","domain":[5,237500],"range":[2091.3,3201],"nice":false},"axis":null},"x2":{"datum":237500},"y":{"field":"v","type":"quantitative","scale":{"domain":[0,0.1099],"range":[491.9,29.7],"nice":false,"zero":false},"axis":{"orient":"right","offset":-201,"values":[0,0.004,0.008,0.012,0.016,0.02,0.024,0.028,0.032,0.036,0.04,0.044,0.048,0.052,0.056,0.06,0.064,0.068,0.072,0.076,0.08,0.084,0.088,0.092,0.096,0.1,0.104,0.108],"labelExpr":"round(datum.value*1000)%20==0?format(datum.value,'.2f'):''","labelFont":"Liberation Serif","labelFontSize":47,"labelColor":"#000","labelPadding":9,"labelOverlap":false,"labelBound":false,"labelFlush":false,"tickSize":{"condition":{"test":"round(datum.value*1000)%20==0","value":13},"value":7},"tickWidth":2,"tickColor":"#000","domainColor":"#000","domainWidth":3,"grid":false,"title":"dV/d(lgd)/(mL/g)","titleFont":"Liberation Serif","titleFontSize":55,"titleFontWeight":"normal","titleColor":"#000","titleAngle":-90,"titleX":172,"titleY":260,"titleAlign":"center","titleBaseline":"alphabetic"}}}},
{"data":{"name":"SECC-b"},"encoding":{"x":{"field":"a","type":"quantitative","scale":{"type":"log","domain":[5,237500],"range":[2032.3,3142],"nice":false},"axis":null},"y":{"field":"v","type":"quantitative","stack":null,"scale":{"domain":[0,0.1099],"range":[560.8,98.6],"nice":false},"axis":null},"order":{"value":null}},"layer":[{"mark":{"type":"area","color":"#ff0000"}},{"mark":{"type":"line","color":"#000","strokeWidth":2.8}}]},
{"data":{"name":"NAMC-3"},"encoding":{"x":{"field":"a","type":"quantitative","scale":{"type":"log","domain":[5,237500],"range":[1914.3,3024],"nice":false},"axis":null},"y":{"field":"v","type":"quantitative","stack":null,"scale":{"domain":[0,0.1099],"range":[698.5,236.3],"nice":false},"axis":null},"order":{"value":null}},"layer":[{"mark":{"type":"area","color":"#0000ff"}},{"mark":{"type":"line","color":"#000","strokeWidth":2.8}}]},
{"data":{"name":"NAMC-5"},"encoding":{"x":{"field":"a","type":"quantitative","scale":{"type":"log","domain":[5,237500],"range":[1796.3,2906],"nice":false},"axis":null},"y":{"field":"v","type":"quantitative","stack":null,"scale":{"domain":[0,0.1099],"range":[836.2,374],"nice":false},"axis":null},"order":{"value":null}},"layer":[{"mark":{"type":"area","color":"#404040"}},{"mark":{"type":"line","color":"#000","strokeWidth":2.8}}]}
]}
